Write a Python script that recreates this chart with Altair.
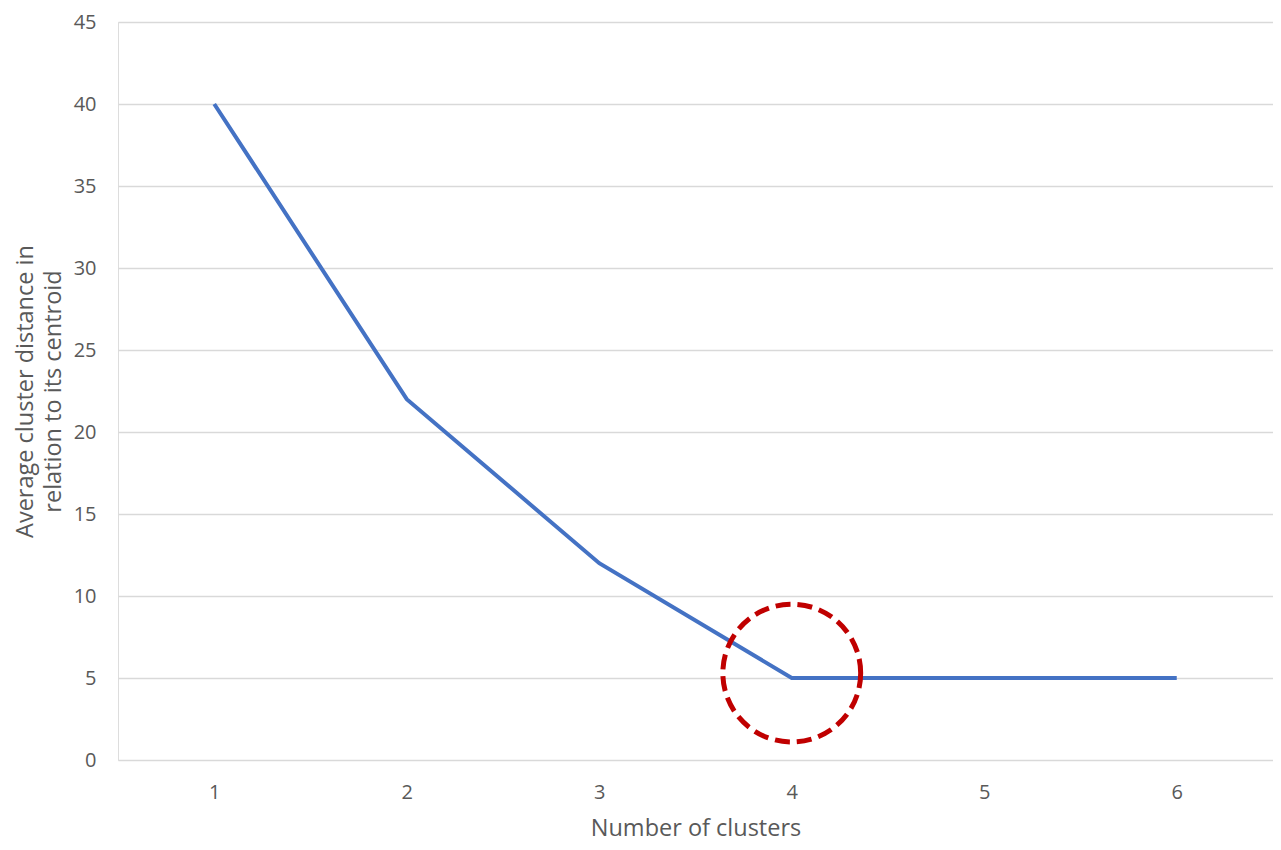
import altair as alt
import pandas as pd

clusters = [1, 2, 3, 4, 5, 6]
distances = [40, 22, 12, 5, 5, 5]
highlight_x = [4]
highlight_y = [5.3]

df = pd.DataFrame({"k": clusters, "d": distances})
hl = pd.DataFrame({"k": highlight_x, "d": highlight_y})

FONT = "Open Sans"
GREY = "#595959"
xscale = alt.Scale(type="point", padding=0.5, domain=clusters)
yscale = alt.Scale(domain=[0, 45], nice=False)

line = alt.Chart(df).mark_line(color="#4472C4", strokeWidth=4).encode(
    x=alt.X("k:O", scale=xscale,
            axis=alt.Axis(title="Number of clusters", labelAngle=0, ticks=False, domain=False,
                          labelPadding=22, titlePadding=14, labelFontSize=20, titleFontSize=23.5,
                          labelColor=GREY, titleColor=GREY, labelFont=FONT,
                          titleFont=FONT, titleFontWeight="normal", grid=False)),
    y=alt.Y("d:Q", scale=yscale,
            axis=alt.Axis(title=["Average cluster distance in", "relation to its centroid"],
                          values=list(range(0, 50, 5)), ticks=False, domain=False,
                          labelPadding=22, titleX=-81, titleFontSize=23.5,
                          labelFontSize=20, titleLineHeight=28,
                          labelColor=GREY, titleColor=GREY, labelFont=FONT,
                          titleFont=FONT, titleFontWeight="normal", grid=True,
                          gridColor="#d9d9d9", gridWidth=1.5)),
)

circle = alt.Chart(hl).mark_point(shape="circle", filled=False, size=19000,
                                  color="#C00000", strokeWidth=5,
                                  strokeDash=[15, 7], opacity=1).encode(
    x=alt.X("k:O", scale=xscale),
    y=alt.Y("d:Q", scale=yscale),
)

chart = (line + circle).properties(
    width=1155, height=738,
    autosize=alt.AutoSizeParams(type="none"),
    padding={"left": 110, "top": 14, "right": 0, "bottom": 82},
).configure_view(stroke=None).configure(background="white")

chart.save("out.html", embed_options={"renderer": "svg", "actions": False})
